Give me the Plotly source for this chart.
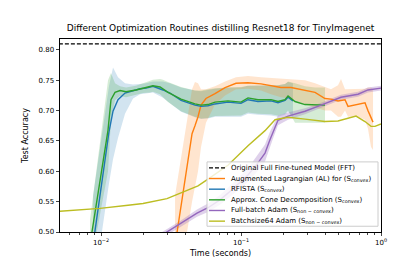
import plotly.graph_objects as go

# ---------------- data ----------------
fft_acc = 0.81
time_span = [0.005, 1.0]

al_t = [0.0338, 0.0349, 0.0447, 0.0469, 0.0493, 0.0518, 0.0562, 0.0652, 0.0769, 0.0921, 0.1122, 0.139,
        0.1637, 0.193, 0.2276, 0.2864, 0.3379, 0.398, 0.4394, 0.4931, 0.5179, 0.5534, 0.5811, 0.6853,
        0.7686, 0.8071, 0.8488, 0.877]
al_acc = [0.478, 0.50, 0.662, 0.675, 0.69, 0.709, 0.72, 0.728, 0.738, 0.745, 0.746, 0.744,
          0.741, 0.738, 0.738, 0.734, 0.730, 0.720, 0.719, 0.716, 0.717, 0.718, 0.707, 0.711,
          0.713, 0.70, 0.69, 0.681]
al_hi = [0.56, 0.58, 0.735, 0.747, 0.745, 0.735, 0.735, 0.74, 0.748, 0.755, 0.757, 0.755,
         0.754, 0.753, 0.752, 0.75, 0.745, 0.738, 0.735, 0.742, 0.752, 0.735, 0.735, 0.735,
         0.736, 0.738, 0.738, 0.735]
al_lo = [0.38, 0.40, 0.55, 0.575, 0.60, 0.64, 0.68, 0.71, 0.725, 0.735, 0.736, 0.733,
         0.727, 0.722, 0.72, 0.71, 0.705, 0.70, 0.70, 0.69, 0.69, 0.70, 0.69, 0.69,
         0.685, 0.67, 0.64, 0.635]

rf_t = [0.00878, 0.0114, 0.01218, 0.01322, 0.01484, 0.01693, 0.019, 0.02096, 0.0235, 0.0277, 0.0311,
        0.0373, 0.0469, 0.0518, 0.0581, 0.0652, 0.0807, 0.1, 0.1122, 0.1322, 0.1637, 0.1837, 0.2062,
        0.2168, 0.235]
rf_acc = [0.48, 0.665, 0.699, 0.718, 0.729, 0.733, 0.736, 0.737, 0.740, 0.734, 0.729,
          0.717, 0.709, 0.707, 0.708, 0.711, 0.714, 0.712, 0.718, 0.715, 0.716, 0.713, 0.717,
          0.722, 0.716]
rf_hi = [0.56, 0.74, 0.771, 0.755, 0.745, 0.743, 0.744, 0.745, 0.748, 0.748, 0.745,
         0.738, 0.733, 0.732, 0.734, 0.736, 0.738, 0.738, 0.741, 0.741, 0.742, 0.742, 0.744,
         0.747, 0.745]
rf_lo = [0.40, 0.58, 0.62, 0.655, 0.695, 0.72, 0.727, 0.728, 0.730, 0.721, 0.712,
         0.698, 0.689, 0.686, 0.687, 0.69, 0.69, 0.69, 0.695, 0.693, 0.692, 0.69, 0.693,
         0.698, 0.69]

cone_t = [0.00835, 0.01122, 0.01178, 0.01259, 0.01367, 0.01509, 0.01778, 0.01995, 0.0224, 0.0235,
          0.0264, 0.0277, 0.0301, 0.0373, 0.0469, 0.0518, 0.0581, 0.0652, 0.0807, 0.1, 0.1122,
          0.1322, 0.1637, 0.1837, 0.2062, 0.2168, 0.2431, 0.2864, 0.3379, 0.398]
cone_acc = [0.48, 0.668, 0.718, 0.730, 0.733, 0.731, 0.734, 0.737, 0.739, 0.741,
            0.739, 0.736, 0.730, 0.719, 0.711, 0.709, 0.710, 0.714, 0.716, 0.714, 0.721,
            0.718, 0.718, 0.715, 0.718, 0.724, 0.715, 0.710, 0.709, 0.709]
cone_hi = [0.52, 0.75, 0.762, 0.745, 0.74, 0.738, 0.741, 0.745, 0.749, 0.751,
           0.752, 0.751, 0.747, 0.739, 0.733, 0.733, 0.735, 0.737, 0.738, 0.739, 0.741,
           0.741, 0.742, 0.742, 0.744, 0.748, 0.745, 0.74, 0.738, 0.738]
cone_lo = [0.44, 0.60, 0.685, 0.717, 0.724, 0.722, 0.726, 0.729, 0.73, 0.731,
           0.727, 0.723, 0.714, 0.699, 0.69, 0.687, 0.688, 0.691, 0.692, 0.692, 0.697,
           0.695, 0.694, 0.692, 0.695, 0.70, 0.68, 0.68, 0.68, 0.68]

fb_t = [0.0256, 0.0296, 0.0367, 0.0485, 0.0581, 0.0708, 0.0807, 0.1122, 0.1322, 0.1484, 0.161,
        0.1693, 0.1837, 0.2168, 0.2864, 0.3728, 0.5179, 0.6853, 0.8071, 1.0]
fb_acc = [0.491, 0.50, 0.513, 0.531, 0.540, 0.553, 0.564, 0.594, 0.614, 0.630, 0.652,
          0.665, 0.684, 0.691, 0.699, 0.709, 0.722, 0.727, 0.734, 0.737]
fb_err = [0.005, 0.005, 0.005, 0.006, 0.007, 0.008, 0.009, 0.011, 0.013, 0.014, 0.013,
          0.011, 0.008, 0.006, 0.005, 0.004, 0.004, 0.004, 0.004, 0.004]

b64_t = [0.005, 0.00984, 0.0156, 0.01995, 0.0296, 0.0385, 0.0493, 0.0581, 0.0807, 0.1122, 0.1484,
         0.175, 0.2168, 0.2864, 0.398, 0.4931, 0.5811, 0.6631, 0.7686, 0.8488, 0.9061, 1.0]
b64_acc = [0.534, 0.539, 0.544, 0.547, 0.555, 0.566, 0.576, 0.587, 0.610, 0.642, 0.667,
           0.685, 0.689, 0.686, 0.682, 0.683, 0.687, 0.691, 0.682, 0.674, 0.674, 0.678]

names = {
    "fft": "Original Full Fine-tuned Model (FFT)",
    "al": "Augmented Lagrangian (AL) for (S<sub>convex</sub>)",
    "rf": "RFISTA (S<sub>convex</sub>)",
    "cone": "Approx. Cone Decomposition (S<sub>convex</sub>)",
    "fb": "Full-batch Adam (S<sub>non − convex</sub>)",
    "b64": "Batchsize64 Adam (S<sub>non − convex</sub>)",
}

x_ticks = [0.01, 0.1, 1]
x_tick_text = ["10<sup>−2</sup>", "10<sup>−1</sup>", "10<sup>0</sup>"]
y_ticks = [0.50, 0.55, 0.60, 0.65, 0.70, 0.75, 0.80]

# ---------------- figure ----------------
C_OR, C_BL, C_GR, C_PU, C_OL = "#ff7f0e", "#1f77b4", "#2ca02c", "#9467bd", "#bcbd22"
W, H = 415, 260
PL, PR, PT, PB = 52, 373, 31, 232  # plot area in pixels


def rgba(hexc, a):
    h = hexc.lstrip("#")
    return f"rgba({int(h[0:2],16)},{int(h[2:4],16)},{int(h[4:6],16)},{a})"


def px_x(p):
    return (p - PL) / (PR - PL)


def px_y(p):
    return (PB - p) / (PB - PT)


fig = go.Figure()


def band(t, lo, hi, color, a=0.2):
    fig.add_trace(go.Scatter(x=list(t) + list(t)[::-1], y=list(hi) + list(lo)[::-1],
                             fill="toself", fillcolor=rgba(color, a), line=dict(width=0),
                             mode="lines", showlegend=False, hoverinfo="skip"))


band(rf_t, rf_lo, rf_hi, C_BL)
band(cone_t, cone_lo, cone_hi, C_GR)
band(al_t, al_lo, al_hi, C_OR)
band(fb_t, [a - e for a, e in zip(fb_acc, fb_err)], [a + e for a, e in zip(fb_acc, fb_err)], C_PU, 0.3)

LW = 1.4
DASH = "4px,2px"
series = [
    ("fft", time_span, [fft_acc, fft_acc], "black", DASH),
    ("al", al_t, al_acc, C_OR, "solid"),
    ("rf", rf_t, rf_acc, C_BL, "solid"),
    ("cone", cone_t, cone_acc, C_GR, "solid"),
    ("fb", fb_t, fb_acc, C_PU, "solid"),
    ("b64", b64_t, b64_acc, C_OL, "solid"),
]
for key, xs, ys, col, dash in series:
    fig.add_trace(go.Scatter(x=xs, y=ys, mode="lines", name=names[key], showlegend=False,
                             line=dict(color=col, width=LW, dash=dash)))

# ---- compact legend box (matplotlib style) ----
FS = 7
shapes = [dict(type="rect", xref="paper", yref="paper", x0=px_x(199), x1=px_x(370),
               y0=px_y(226), y1=px_y(159), line=dict(color="#cccccc", width=1),
               fillcolor="rgba(255,255,255,0.8)", layer="above")]
annotations = []
row0, row_gap = 165.2, 11.1
for i, (key, xs, ys, col, dash) in enumerate(series):
    yy = px_y(row0 + i * row_gap)
    shapes.append(dict(type="line", xref="paper", yref="paper", x0=px_x(201), x1=px_x(217),
                       y0=yy, y1=yy, line=dict(color=col, width=LW, dash=dash), layer="above"))
    annotations.append(dict(text=names[key], xref="paper", yref="paper", x=px_x(221), y=yy,
                            xanchor="left", yanchor="middle", showarrow=False,
                            font=dict(size=FS, family="DejaVu Sans", color="black")))

minor_vals = [m * 10 ** e for e in (-3, -2, -1) for m in range(2, 10)]

FONT = "DejaVu Sans"
fig.update_layout(
    width=W, height=H,
    margin=dict(l=PL, r=W - PR, t=PT, b=H - PB),
    paper_bgcolor="white", plot_bgcolor="white",
    font=dict(family=FONT, size=FS, color="black"),
    title=dict(text="Different Optimization Routines distilling Resnet18 for TinyImagenet",
               x=(PL + PR) / 2 / W, xanchor="center", y=1 - 20 / H, yanchor="middle",
               font=dict(size=9)),
    showlegend=False,
    shapes=shapes,
    annotations=annotations,
)
fig.update_xaxes(type="log", range=[-2.293, 0], tickmode="array", tickvals=x_ticks, ticktext=x_tick_text,
                 ticks="outside", ticklen=3.5, tickwidth=0.8, showgrid=False, zeroline=False,
                 showline=True, linecolor="black", linewidth=0.8, mirror=True,
                 minor=dict(tickmode="array", tickvals=minor_vals, ticks="outside", ticklen=2,
                            tickwidth=0.6, showgrid=False),
                 title=dict(text="Time (seconds)", standoff=4))
fig.update_yaxes(range=[0.5, 0.818], tickmode="array", tickvals=y_ticks, tickformat=".2f",
                 ticks="outside", ticklen=3.5, tickwidth=0.8, showgrid=False, zeroline=False,
                 showline=True, linecolor="black", linewidth=0.8, mirror=True,
                 title=dict(text="Test Accuracy", standoff=8))

fig.write_html("out.html")
